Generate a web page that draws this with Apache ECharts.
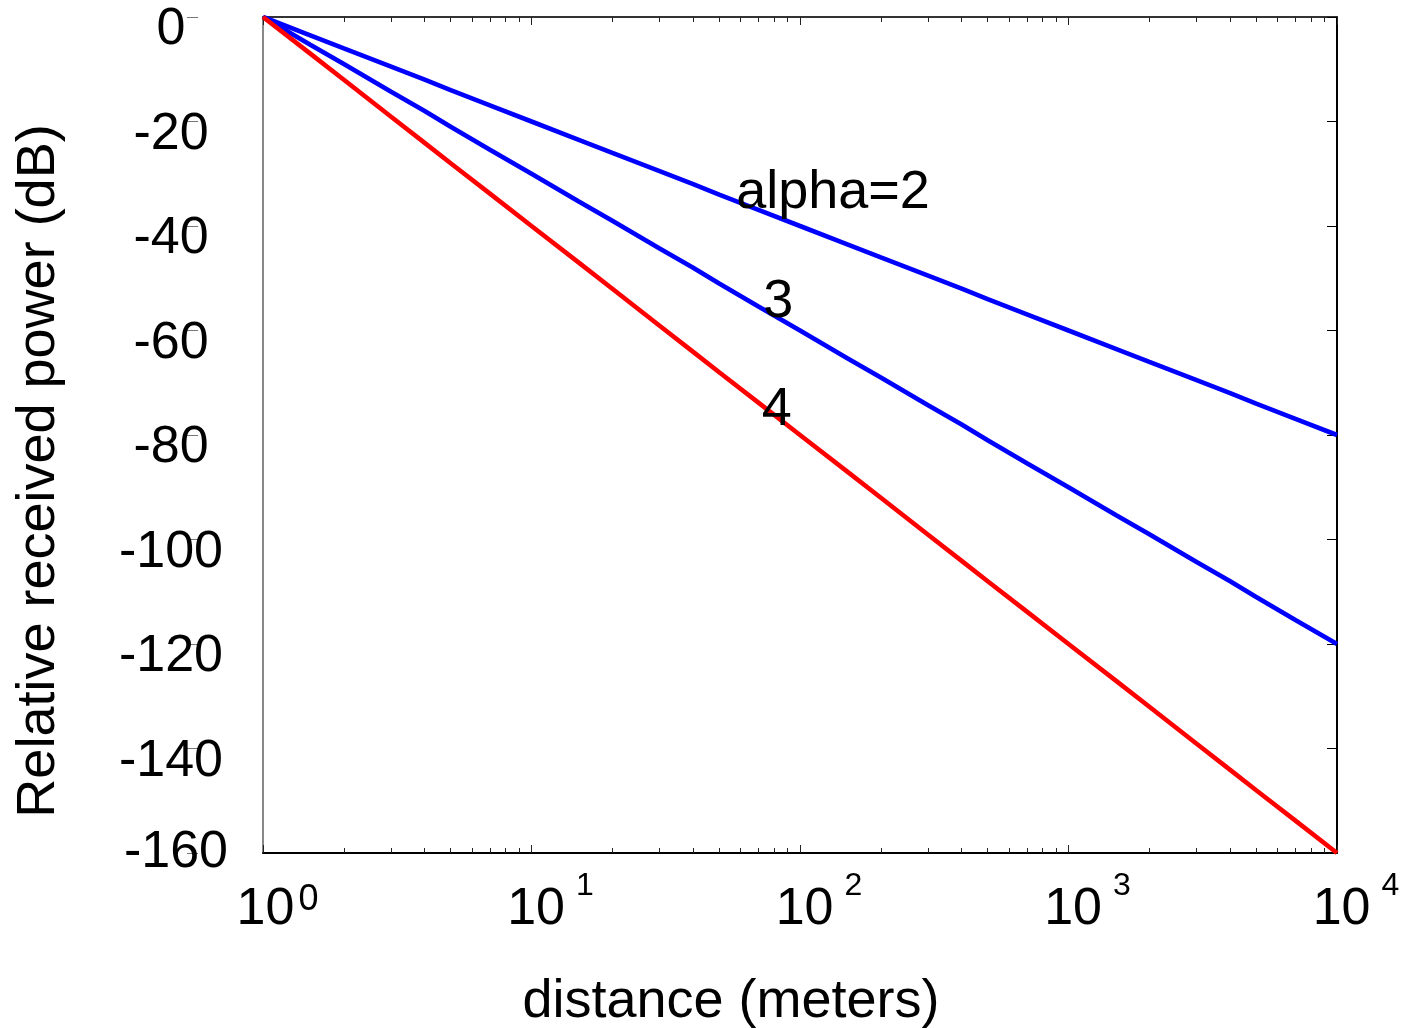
<!DOCTYPE html>
<html>
<head>
<meta charset="utf-8">
<script src="https://cdn.jsdelivr.net/npm/echarts@6/dist/echarts.min.js"></script>
<style>
html,body{margin:0;padding:0;background:#fff;}
#chart{width:1416px;height:1028px;}
</style>
</head>
<body>
<div id="chart"></div>
<script>
// distance (meters)
const distance = [1, 1.5, 2, 3, 4, 5, 7, 10, 15, 20, 30, 40, 50, 70, 100, 150, 200, 300, 400, 500, 700, 1000, 1500, 2000, 3000, 4000, 5000, 7000, 10000];
// relative received power (dB) for each path-loss exponent
const alpha2 = [0, -3.5, -6, -9.5, -12, -14, -16.9, -20, -23.5, -26, -29.5, -32, -34, -36.9, -40, -43.5, -46, -49.5, -52, -54, -56.9, -60, -63.5, -66, -69.5, -72, -74, -76.9, -80];
const alpha3 = [0, -5.3, -9, -14.3, -18, -21, -25.4, -30, -35.3, -39, -44.3, -48, -51, -55.4, -60, -65.3, -69, -74.3, -78, -81, -85.4, -90, -95.3, -99, -104.3, -108, -111, -115.4, -120];
const alpha4 = [0, -7, -12, -19.1, -24.1, -28, -33.8, -40, -47, -52, -59.1, -64.1, -68, -73.8, -80, -87, -92, -99.1, -104.1, -108, -113.8, -120, -127, -132, -139.1, -144.1, -148, -153.8, -160];
// axis ticks
const xMajorTicks = [1, 10, 100, 1000, 10000];
const xMinorTicks = [2,3,4,5,6,7,8,9,20,30,40,50,60,70,80,90,200,300,400,500,600,700,800,900,2000,3000,4000,5000,6000,7000,8000,9000];
const yTicks = [0, -20, -40, -60, -80, -100, -120, -140, -160];
// curve annotations
const curveLabels = ['alpha=2', '3', '4'];

const FONT = 'Liberation Sans, Arial, Helvetica, sans-serif';
const pairs = a => distance.map((d, i) => [d, a[i]]);

const chart = echarts.init(document.getElementById('chart'), null, {renderer: 'canvas'});

function xAxisDef(pos, major, lineStyle) {
  return {
    type: 'log', logBase: 10, min: 1, max: 10000, position: pos, gridIndex: 0,
    axisLine: {show: !!lineStyle, lineStyle: lineStyle || {}, onZero: false},
    axisTick: {show: true, inside: true, length: major ? 8 : 5,
      customValues: major ? xMajorTicks : xMinorTicks,
      lineStyle: {color: '#222', width: 1}},
    axisLabel: {show: false},
    splitLine: {show: false}, minorTick: {show: false}, minorSplitLine: {show: false}
  };
}

const bottomMajor = xAxisDef('bottom', true, {color: '#000', width: 2});
bottomMajor.axisLabel = {
  show: true, customValues: xMajorTicks, margin: 17,
  showMinLabel: true, showMaxLabel: true, hideOverlap: false,
  formatter: function (v) {
    const e = Math.round(Math.log10(v));
    if (e === 0) return '{b0|10}{s0|' + e + '}';
    return '{b|10}{s|' + e + '}';
  },
  rich: {
    b: {fontSize: 52, lineHeight: 80, fontFamily: FONT, color: '#000', padding: [0, 0, 0, 38], verticalAlign: 'middle'},
    b0: {fontSize: 52, lineHeight: 80, fontFamily: FONT, color: '#000', padding: [0, 0, 0, 29], verticalAlign: 'middle'},
    s: {fontSize: 32, lineHeight: 32, fontFamily: FONT, color: '#000', padding: [0, 0, 0, 11], verticalAlign: 'top'},
    s0: {fontSize: 36, lineHeight: 36, fontFamily: FONT, color: '#000', padding: [12, 0, 0, 4], verticalAlign: 'top'}
  }
};
bottomMajor.name = 'distance (meters)';
bottomMajor.nameLocation = 'middle';
bottomMajor.nameGap = 149;
bottomMajor.nameTextStyle = {fontSize: 54, fontFamily: FONT, color: '#000', verticalAlign: 'middle', padding: [0, 138, 0, 0]};

const option = {
  backgroundColor: '#fff',
  animation: false,
  grid: {left: 263, right: 79, top: 17, bottom: 175, containLabel: false, outerBoundsMode: 'none'},
  xAxis: [
    bottomMajor,
    xAxisDef('bottom', false, null),
    xAxisDef('top', true, {color: '#333', width: 2}),
    xAxisDef('top', false, null)
  ],
  yAxis: [
    {
      type: 'value', min: -160, max: 0, interval: 20, position: 'left',
      axisLine: {show: true, lineStyle: {color: '#888', width: 2}},
      axisTick: {show: false},
      splitLine: {show: false},
      axisLabel: {
        show: true, margin: 92, align: 'center', verticalAlign: 'middle',
        customValues: yTicks,
        formatter: function (v) { return v === -160 ? '{e|' + v + '}' : '{n|' + v + '}'; },
        rich: {
          n: {fontSize: 52, lineHeight: 52, fontFamily: FONT, color: '#000', padding: [26, 0, 0, 0]},
          e: {fontSize: 52, lineHeight: 52, fontFamily: FONT, color: '#000', padding: [0, 0, 0, 10]}
        }
      },
      name: 'Relative received power (dB)', nameLocation: 'middle', nameGap: 224, nameRotate: 90,
      nameTextStyle: {fontSize: 54, fontFamily: FONT, color: '#000', verticalAlign: 'middle', padding: [0, 72, 0, 0]}
    },
    {
      type: 'value', min: -160, max: 0, interval: 20, position: 'right',
      axisLine: {show: true, lineStyle: {color: '#000', width: 2}},
      axisTick: {show: true, inside: true, length: 10, lineStyle: {color: '#000', width: 1}},
      axisLabel: {show: false}, splitLine: {show: false}
    },
    {
      type: 'value', min: -160, max: 0, interval: 20, position: 'left', offset: 65,
      axisLine: {show: false},
      axisTick: {show: true, inside: false, length: 11, lineStyle: {color: '#777', width: 1}},
      axisLabel: {show: false}, splitLine: {show: false}
    }
  ],
  series: [
    {
      name: 'alpha=2', type: 'line', data: pairs(alpha2), xAxisIndex: 0, yAxisIndex: 0,
      showSymbol: false, symbol: 'none', lineStyle: {color: '#0000ff', width: 4.6}, z: 3,
      markPoint: {symbol: 'circle', symbolSize: 0, silent: true,
        label: {show: true, position: 'inside', fontSize: 54, fontFamily: FONT, color: '#000', formatter: '{b}'},
        data: [{name: curveLabels[0], coord: [132.7, -33.7]}]}
    },
    {
      name: '3', type: 'line', data: pairs(alpha3), xAxisIndex: 0, yAxisIndex: 0,
      showSymbol: false, symbol: 'none', lineStyle: {color: '#0000ff', width: 4.6}, z: 3,
      markPoint: {symbol: 'circle', symbolSize: 0, silent: true,
        label: {show: true, position: 'inside', fontSize: 54, fontFamily: FONT, color: '#000', formatter: '{b}'},
        data: [{name: curveLabels[1], coord: [83, -54.6]}]}
    },
    {
      name: '4', type: 'line', data: pairs(alpha4), xAxisIndex: 0, yAxisIndex: 0,
      showSymbol: false, symbol: 'none', lineStyle: {color: '#ff0000', width: 4.6}, z: 4,
      markPoint: {symbol: 'circle', symbolSize: 0, silent: true,
        label: {show: true, position: 'inside', fontSize: 54, fontFamily: FONT, color: '#000', formatter: '{b}'},
        data: [{name: curveLabels[2], coord: [82, -75.2]}]}
    }
  ]
};
chart.setOption(option);
</script>
</body>
</html>
